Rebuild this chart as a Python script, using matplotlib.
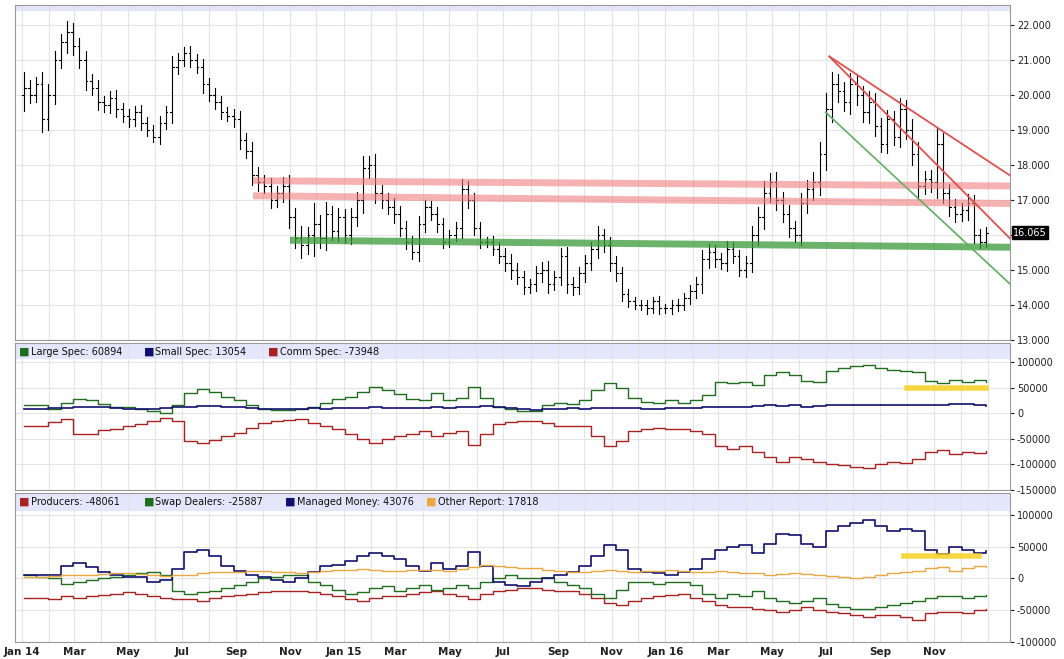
import numpy as np
import pandas as pd
import matplotlib
matplotlib.use("Agg")
import matplotlib.pyplot as plt
import matplotlib.dates as mdates
from matplotlib.ticker import FixedLocator, FuncFormatter

# weekly closes, Jan 2014 - Dec 2016
closes = [20.2, 20.0, 20.3, 19.3,
          20.0, 21.0, 21.5, 21.8,
          21.4, 21.0, 20.4, 20.2, 19.8,
          19.7, 19.9, 19.6, 19.4,
          19.3, 19.5, 19.2, 19.0, 18.8,
          19.2, 19.5, 20.8, 21.0,
          21.2, 21.0, 20.8, 20.3, 20.0,
          19.8, 19.5, 19.4, 19.3,
          18.7, 18.4, 17.7, 17.5,
          17.4, 17.0, 17.2, 17.4, 16.5,
          15.9, 15.7, 16.0, 16.3,
          15.9, 16.6, 16.1, 16.5, 16.0,
          16.5, 17.0, 17.9, 18.0,
          17.2, 17.0, 16.8, 16.6,
          16.2, 15.8, 15.5, 16.3, 16.8,
          16.6, 16.3, 15.8, 16.0,
          16.2, 17.3, 17.0, 16.2, 15.8,
          15.8, 15.6, 15.4, 15.2,
          15.0, 14.8, 14.5, 14.6, 14.9,
          15.0, 14.6, 14.8, 15.4,
          14.6, 14.5, 14.9, 15.2,
          15.6, 16.0, 15.7, 15.2, 14.9,
          14.3, 14.1, 14.0, 14.0,
          13.9, 14.1, 13.9, 13.9, 14.0,
          14.0, 14.2, 14.4, 14.6,
          15.3, 15.5, 15.3, 15.2,
          15.6, 15.4, 15.0, 15.2,
          16.0, 16.5, 17.2, 17.5,
          17.0, 16.6, 16.2, 16.0,
          16.9, 17.3, 17.5, 18.3, 19.6,
          20.3, 20.1, 19.8, 20.3,
          20.0, 19.5, 19.8, 19.1, 18.6,
          19.3, 18.8, 19.6, 19.0,
          18.3, 17.4, 17.6, 17.5, 18.6,
          17.2, 16.8, 16.6, 16.7,
          16.9, 16.0, 15.8, 16.065]
# weekly high-low range
ranges = [1.5, 0.8, 0.7, 1.2, 1.0, 0.9, 0.8, 1.0,
          0.9, 0.8, 0.9, 0.7, 0.8, 0.6, 0.7, 0.8, 0.6,
          0.7, 0.6, 0.7, 0.6, 0.5, 0.7, 0.6, 1.0, 0.7,
          0.6, 0.7, 0.6, 0.8, 0.6, 0.7, 0.6, 0.5, 0.7,
          0.8, 0.7, 0.9, 0.8, 0.7, 0.8, 0.7, 0.9, 1.0,
          0.9, 1.2, 0.8, 2.0, 0.9, 1.1, 0.8, 0.9, 0.8,
          0.9, 0.8, 1.2, 0.9, 1.0, 0.8, 0.7, 0.9,
          0.8, 0.7, 0.6, 0.8, 0.7, 0.6, 0.7, 0.6, 0.5,
          0.6, 1.0, 0.8, 0.7, 0.6, 0.5, 0.6, 0.7, 0.8,
          0.9, 0.7, 0.6, 0.5, 0.7, 0.8, 0.9, 0.6, 0.8,
          0.9, 0.7, 0.6, 0.8, 0.7, 0.9, 0.6, 0.8, 0.7,
          0.6, 0.5, 0.4, 0.5, 0.5, 0.4, 0.5, 0.4, 0.5,
          0.6, 0.5, 0.6, 0.7, 0.9, 0.8, 0.7, 0.6,
          0.8, 0.7, 0.6, 0.7, 0.9, 1.0, 1.1, 0.9,
          1.0, 0.8, 0.9, 0.7, 1.0, 0.9, 1.0, 1.2, 1.5,
          1.2, 1.0, 0.9, 1.1, 1.0, 0.9, 1.0, 0.9, 0.8,
          0.9, 0.8, 1.0, 0.9, 1.0, 1.2, 0.8, 0.9, 1.5,
          1.0, 0.9, 0.8, 0.7, 0.9, 0.8, 0.6, 0.5]

# COT, every two weeks, thousands of contracts
large_spec = [15, 15, 8, 20, 28, 25, 18, 12, 12, 8, 5, 0, 15, 40, 48, 42, 32, 25, 15, 8,
              6, 6, 8, 12, 20, 28, 32, 42, 52, 45, 38, 28, 25, 40, 25, 30, 52, 30, 12, 8,
              4, 5, 15, 20, 18, 25, 45, 58, 50, 30, 22, 20, 25, 20, 25, 35, 60, 58, 60, 55,
              75, 80, 75, 62, 60, 82, 88, 92, 95, 88, 85, 82, 80, 62, 58, 65, 60, 65, 60.894]
small_spec = [8, 9, 10, 11, 12, 13, 12, 11, 9, 8, 9, 10, 12, 13, 14, 14, 13, 12, 10, 9,
              8, 8, 9, 10, 9, 10, 10, 11, 12, 11, 10, 10, 11, 12, 11, 12, 13, 14, 12, 10,
              8, 7, 8, 9, 10, 9, 10, 11, 11, 10, 9, 9, 10, 10, 11, 12, 13, 12, 13, 14,
              15, 14, 15, 13, 14, 15, 15, 16, 15, 16, 15, 16, 16, 15, 16, 17, 17, 15, 13.054]
comm_spec = [-25, -25, -18, -12, -40, -40, -32, -30, -25, -22, -15, -10, -15, -55, -58, -52, -45, -38, -28, -20,
             -15, -14, -12, -20, -25, -30, -40, -50, -58, -50, -45, -40, -35, -45, -38, -35, -62, -40, -22, -18,
             -15, -15, -20, -25, -25, -25, -45, -65, -55, -35, -30, -28, -30, -30, -35, -40, -65, -70, -65, -75,
             -85, -95, -85, -90, -95, -100, -102, -105, -108, -100, -95, -98, -90, -75, -72, -80, -75, -78, -73.948]

producers = [-30, -30, -32, -28, -30, -28, -26, -25, -22, -25, -27, -30, -32, -33, -35, -30, -28, -26, -25, -22,
             -20, -20, -20, -22, -25, -28, -32, -35, -30, -28, -28, -25, -22, -20, -25, -28, -32, -25, -20, -18,
             -15, -15, -18, -20, -20, -25, -30, -38, -42, -35, -30, -28, -26, -25, -30, -35, -42, -45, -45, -48,
             -50, -52, -50, -45, -50, -52, -55, -58, -60, -58, -58, -60, -65, -55, -52, -53, -55, -50, -48.061]
swap_dealers = [5, 3, 0, -8, -6, -3, 0, 2, 5, 8, 10, 5, -20, -25, -22, -20, -15, -10, -5, 0,
                2, 5, 5, -5, -10, -18, -25, -22, -15, -12, -20, -15, -10, -18, -15, -10, -15, -5, 0, 5,
                0, 0, 0, -5, -10, -15, -25, -30, -18, -5, -5, -8, -6, -5, -10, -25, -30, -25, -28, -20,
                -30, -35, -38, -35, -30, -40, -45, -48, -48, -45, -42, -38, -35, -30, -28, -28, -30, -28, -25.887]
managed_money = [5, 5, 5, 20, 25, 18, 10, 5, 3, 3, -5, -3, 15, 42, 45, 35, 20, 12, 5, 2,
                 -2, -5, 0, 10, 20, 22, 28, 35, 40, 35, 30, 20, 12, 25, 15, 20, 42, 20, -5, -10,
                 -12, -5, 0, 5, 10, 20, 35, 52, 45, 15, 10, 8, 5, 10, 15, 30, 45, 50, 52, 40,
                 55, 70, 68, 55, 50, 75, 82, 88, 92, 82, 75, 78, 75, 45, 38, 50, 45, 40, 43.076]
other_report = [3, 3, 4, 5, 5, 6, 7, 8, 8, 7, 5, 4, 5, 6, 8, 10, 10, 11, 12, 12,
                11, 10, 9, 10, 12, 13, 14, 15, 14, 12, 12, 13, 14, 13, 12, 15, 18, 22, 20, 18,
                17, 16, 14, 12, 10, 11, 12, 13, 12, 11, 12, 12, 13, 12, 11, 10, 12, 11, 9, 8,
                6, 7, 8, 7, 6, 4, 2, 1, 3, 5, 8, 10, 12, 16, 18, 12, 16, 20, 17.818]

week_dates = pd.date_range("2014-01-03", periods=len(closes), freq="7D")
cot_dates = pd.date_range("2014-01-03", periods=len(large_spec), freq="14D")

fig = plt.figure(figsize=(10.64, 6.59), dpi=100)
W, H = 1064, 659
L, R = 15 / W, 1010 / W

def make_ax(top_px, bot_px):
    return fig.add_axes([L, 1 - bot_px / H, R - L, (bot_px - top_px) / H])

ax1 = make_ax(5, 340)
ax2 = make_ax(343, 490)
ax3 = make_ax(493, 642)

xmin, xmax = mdates.date2num(pd.Timestamp("2013-12-24")), mdates.date2num(pd.Timestamp("2017-01-26"))
months = pd.date_range("2014-01-01", "2017-01-01", freq="MS")
lab_months = pd.date_range("2014-01-01", "2016-12-01", freq="2MS")

def fmt_lab(d):
    if d.month == 1:
        return d.strftime("Jan %y")
    return d.strftime("%b")

for ax in (ax1, ax2, ax3):
    ax.set_xlim(xmin, xmax)
    ax.xaxis.set_minor_locator(FixedLocator(mdates.date2num(months)))
    ax.xaxis.set_major_locator(FixedLocator(mdates.date2num(lab_months)))
    ax.grid(True, which="both", axis="x", color="#e4e4e4", lw=0.8)
    ax.grid(True, which="major", axis="y", color="#e4e4e4", lw=0.8)
    ax.yaxis.tick_right()
    ax.tick_params(axis="y", labelsize=7, length=3, pad=2, colors="#222222")
    ax.tick_params(axis="x", which="both", length=0)
    for s in ax.spines.values():
        s.set_color("#999999")
    ax.set_axisbelow(True)

ax1.tick_params(axis="x", labelbottom=False)
ax2.tick_params(axis="x", labelbottom=False)
ax3.set_xticklabels([fmt_lab(d) for d in lab_months], fontsize=7.5, fontweight="bold", color="#222222")

# --- price OHLC ---
xs = mdates.date2num(week_dates)
opens = [20.0] + closes[:-1]
for x, o, c, r in zip(xs, opens, closes, ranges):
    hi = max(o, c) + r * 0.3
    lo = min(o, c) - r * 0.3
    ax1.plot([x, x], [lo, hi], color="black", lw=0.8)
    ax1.plot([x - 2, x], [o, o], color="black", lw=0.8)
    ax1.plot([x, x + 2], [c, c], color="black", lw=0.8)

ax1.set_ylim(13, 22.57)
ax1.set_yticks(np.arange(13, 23, 1))
ax1.yaxis.set_major_formatter(FuncFormatter(lambda v, p: "" if abs(v - 16) < 1e-6 else f"{v:.3f}"))
ax1.axhspan(22.43, 22.57, color="#e4e6fb", zorder=0)

d = lambda s: mdates.date2num(pd.Timestamp(s))
ax1.plot([d("2014-09-20"), xmax], [17.55, 17.4], color="#f08080", lw=5, alpha=0.6, solid_capstyle="butt")
ax1.plot([d("2014-09-20"), xmax], [17.12, 16.9], color="#f08080", lw=5, alpha=0.6, solid_capstyle="butt")
ax1.plot([d("2014-11-01"), xmax], [15.85, 15.65], color="#3a9a3a", lw=5, alpha=0.75, solid_capstyle="butt")
ax1.plot([d("2016-07-05"), xmax], [21.1, 17.7], color="#e05050", lw=1.3)
ax1.plot([d("2016-07-05"), xmax], [21.1, 15.9], color="#e05050", lw=1.3)
ax1.plot([d("2016-07-01"), xmax], [19.5, 14.6], color="#60b060", lw=1.2)
ax1.text(1.003, 16.065, f"{closes[-1]:.3f}", transform=ax1.get_yaxis_transform(),
         fontsize=7, color="white", va="center", ha="left",
         bbox=dict(boxstyle="square,pad=0.15", fc="black", ec="black"))

# --- legacy COT ---
cx = mdates.date2num(cot_dates)
k = lambda a: np.array(a) * 1000
ax2.step(cx, k(large_spec), where="post", color="#1f6e1f", lw=1)
ax2.step(cx, k(small_spec), where="post", color="#10106e", lw=1.2)
ax2.step(cx, k(comm_spec), where="post", color="#a82222", lw=1)
ax2.plot([d("2016-10-01"), d("2016-12-30")], [50000, 50000], color="#f5d020", lw=4, alpha=0.85)
ax2.set_ylim(-150000, 137000)
ax2.set_yticks([100000, 50000, 0, -50000, -100000, -150000])
ax2.yaxis.set_major_formatter(FuncFormatter(lambda v, p: f"{int(v)}"))
ax2.axhspan(108000, 137000, color="#e4e6fb", zorder=0)

def legend_row(ax, items):
    x = 0.004
    for name, col in items:
        ax.text(x, 0.94, "\u25A0", transform=ax.transAxes, color=col, fontsize=8, va="center")
        ax.text(x + 0.012, 0.94, name, transform=ax.transAxes, color="#111111", fontsize=7, va="center")
        x += 0.012 + len(name) * 0.0056 + 0.018

legend_row(ax2, [("Large Spec: 60894", "#1f6e1f"), ("Small Spec: 13054", "#10106e"),
                 ("Comm Spec: -73948", "#a82222")])

# --- disaggregated COT ---
ax3.step(cx, k(producers), where="post", color="#a82222", lw=1)
ax3.step(cx, k(swap_dealers), where="post", color="#1f6e1f", lw=1)
ax3.step(cx, k(managed_money), where="post", color="#10106e", lw=1.2)
ax3.step(cx, k(other_report), where="post", color="#eba840", lw=1)
ax3.plot([d("2016-09-28"), d("2016-12-22")], [35000, 35000], color="#f5d020", lw=4, alpha=0.85)
ax3.set_ylim(-100000, 134600)
ax3.set_yticks([100000, 50000, 0, -50000, -100000])
ax3.yaxis.set_major_formatter(FuncFormatter(lambda v, p: f"{int(v)}"))
ax3.axhspan(107800, 134600, color="#e4e6fb", zorder=0)
legend_row(ax3, [("Producers: -48061", "#a82222"), ("Swap Dealers: -25887", "#1f6e1f"),
                 ("Managed Money: 43076", "#10106e"), ("Other Report: 17818", "#eba840")])

fig.savefig("out.png", dpi=100)
